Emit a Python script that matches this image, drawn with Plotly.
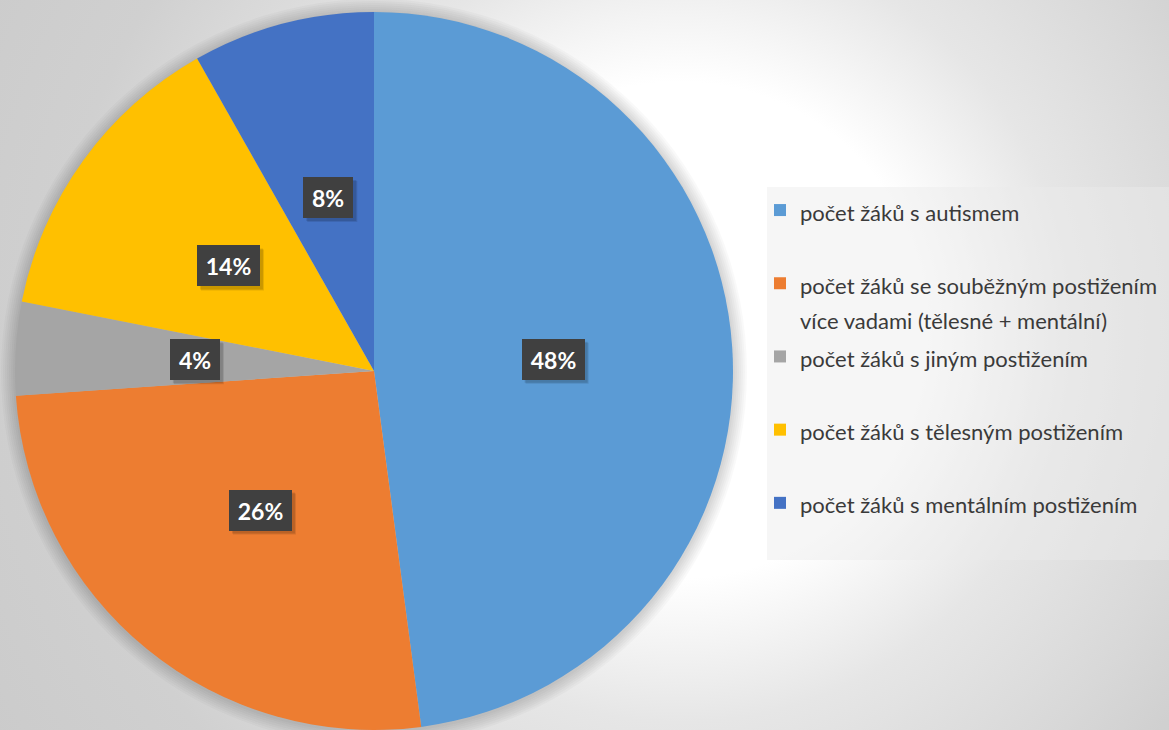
import math
import base64
import plotly.graph_objects as go

# ---------------- data ----------------
labels = [
    "počet žáků s autismem",
    "počet žáků se souběžným postižením<br>více vadami (tělesné + mentální)",
    "počet žáků s jiným postižením",
    "počet žáků s tělesným postižením",
    "počet žáků s mentálním postižením",
]
values = [47.9, 26.0, 4.2, 13.7, 8.2]
colors = ["#5B9BD5", "#ED7D31", "#A5A5A5", "#FFC000", "#4472C4"]

# ---------------- geometry / style ----------------
W, H = 1169, 730
CX, CY, R = 374, 371, 359          # pie centre / radius in px (from top-left)
LEG_LEFT, LEG_TOP = 760, 186
FONT = "Lato, 'Open Sans', sans-serif"

# background radial gradient as an inline svg image
svg = f"""<svg xmlns='http://www.w3.org/2000/svg' width='{W}' height='{H}'>
<defs><radialGradient id='g' gradientUnits='userSpaceOnUse' cx='680' cy='330' r='800'>
<stop offset='0' stop-color='#ffffff'/>
<stop offset='0.31' stop-color='#ffffff'/>
<stop offset='0.49' stop-color='#e6e6e6'/>
<stop offset='0.68' stop-color='#d8d8d8'/>
<stop offset='0.78' stop-color='#d0d0d0'/>
<stop offset='1' stop-color='#cbcbcb'/>
</radialGradient></defs>
<rect width='{W}' height='{H}' fill='url(#g)'/></svg>"""
bg_src = "data:image/svg+xml;base64," + base64.b64encode(svg.encode()).decode()


def legend_text(lab):
    lines = lab.split("<br>")
    body = "<br>".join(f'<span style="font-size:22px">{ln}</span>' for ln in lines)
    pad = 2 - len(lines)
    return body + "<br> " * pad


fig = go.Figure()
fig.add_trace(go.Pie(
    labels=[legend_text(l) for l in labels],
    values=values,
    marker=dict(colors=colors, line=dict(width=0)),
    sort=False,
    direction="clockwise",
    rotation=0,
    textinfo="none",
    hovertemplate="%{label}: %{percent}<extra></extra>",
    domain=dict(x=[(CX - R) / W, (CX + R) / W], y=[1 - (CY + R) / H, 1 - (CY - R) / H]),
    showlegend=True,
))

# pie soft shadow
shapes = []
for k in range(2, 16, 2):
    shapes.append(dict(type="circle", xref="paper", yref="paper", layer="below",
                       x0=(CX - R - k) / W, x1=(CX + R + k) / W,
                       y0=1 - (CY + R + k + 1) / H, y1=1 - (CY - R - k + 1) / H,
                       fillcolor="rgba(0,0,0,0.024)", line=dict(width=0)))
# legend background box
shapes.append(dict(type="rect", xref="paper", yref="paper", layer="below",
                   x0=767 / W, x1=1, y0=1 - 560 / H, y1=1 - 187 / H,
                   fillcolor="rgba(234,234,234,0.45)", line=dict(width=0)))

# data labels
annotations = []
total = sum(values)
cum = 0.0
BOX_H = 41
for v in values:
    mid = (cum + v / 2) / total * 2 * math.pi
    cum += v
    px = CX + 0.5 * R * math.sin(mid)
    py = CY - 0.5 * R * math.cos(mid)
    txt = f"{round(v / total * 100)}%"
    bw = 24 + 13 * len(txt)
    # soft drop shadow of the label box
    for s, a in ((4, 0.10), (3, 0.12)):
        shapes.append(dict(type="rect", xref="paper", yref="paper", layer="above",
                           x0=(px - bw / 2 + s) / W, x1=(px + bw / 2 + s) / W,
                           y0=1 - (py + BOX_H / 2 + s) / H, y1=1 - (py - BOX_H / 2 + s) / H,
                           fillcolor=f"rgba(0,0,0,{a})", line=dict(width=0)))
    annotations.append(dict(text=f"<b>{txt}</b>", x=px / W, y=1 - py / H,
                            xref="paper", yref="paper", xanchor="center", yanchor="middle",
                            showarrow=False, width=bw, height=BOX_H, borderpad=0,
                            borderwidth=0, align="center", valign="middle",
                            bgcolor="#404040",
                            font=dict(family=FONT, size=23, color="#ffffff")))

fig.update_layout(
    width=W, height=H,
    margin=dict(l=0, r=0, t=0, b=0, pad=0),
    paper_bgcolor="#d6d6d6",
    plot_bgcolor="rgba(0,0,0,0)",
    images=[dict(source=bg_src, xref="paper", yref="paper", x=0, y=1, sizex=1, sizey=1,
                 xanchor="left", yanchor="top", sizing="stretch", layer="below")],
    shapes=shapes,
    annotations=annotations,
    legend=dict(x=LEG_LEFT / W, y=1 - LEG_TOP / H, xanchor="left", yanchor="top",
                bgcolor="rgba(0,0,0,0)", borderwidth=0, valign="top",
                font=dict(family=FONT, size=27, color="#3a3a3a")),
)

fig.write_html("out.html", config={"displayModeBar": False},
               post_script="document.body.style.margin='0';document.body.style.overflow='hidden';")
